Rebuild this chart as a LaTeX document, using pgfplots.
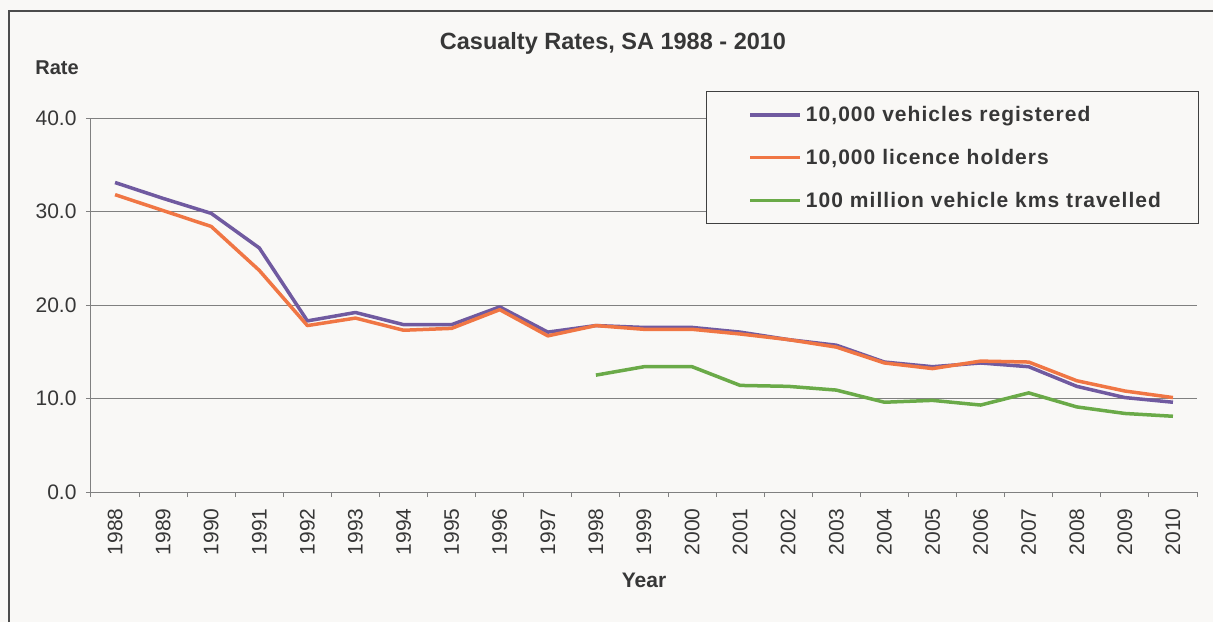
\documentclass[border=0pt]{standalone}
\usepackage{pgfplots}
\pgfplotsset{compat=1.18}
\usepackage{fontspec}
\setmainfont{Liberation Sans}
\newfontfamily\legfont[LetterSpace=5]{Liberation Sans}

\definecolor{bgc}{RGB}{249,248,246}
\definecolor{txt}{RGB}{55,55,55}
\definecolor{grd}{RGB}{128,128,128}
\definecolor{cpur}{RGB}{112,90,160}
\definecolor{corg}{RGB}{240,118,68}
\definecolor{cgrn}{RGB}{106,170,72}

% x = 0 is 1988, ..., 22 is 2010
\pgfplotstableread{
x  y
0  33.1
1  31.4
2  29.8
3  26.1
4  18.3
5  19.2
6  17.9
7  17.9
8  19.8
9  17.1
10 17.8
11 17.6
12 17.6
13 17.1
14 16.3
15 15.7
16 13.9
17 13.4
18 13.8
19 13.4
20 11.3
21 10.1
22 9.6
}\vehicles
\pgfplotstableread{
x  y
0  31.8
1  30.1
2  28.4
3  23.7
4  17.8
5  18.6
6  17.3
7  17.5
8  19.5
9  16.7
10 17.8
11 17.4
12 17.4
13 16.9
14 16.3
15 15.5
16 13.8
17 13.2
18 14.0
19 13.9
20 11.9
21 10.8
22 10.1
}\licence
\pgfplotstableread{
x  y
10 12.5
11 13.4
12 13.4
13 11.4
14 11.3
15 10.9
16 9.6
17 9.8
18 9.3
19 10.6
20 9.1
21 8.4
22 8.1
}\kms

\begin{document}
\begin{tikzpicture}[x=1pt,y=1pt]
\fill[bgc] (-91,-130) rectangle (1122,492);
\useasboundingbox (-91,-130) rectangle (1122,492);
\draw[line width=1.5pt, black!70] (-82,-130) -- (-82,481) -- (1122,481);
\begin{axis}[
    at={(0,0)}, anchor=south west,
    scale only axis, width=1106pt, height=374pt,
    xmin=-0.5, xmax=22.5, ymin=0, ymax=40,
    axis lines*=left,
    axis line style={grd, line width=1pt},
    ytick={0,10,20,30,40},
    ymajorgrids, grid style={grd, line width=1pt},
    xtick={0,...,22},
    xticklabels={1988,1989,1990,1991,1992,1993,1994,1995,1996,1997,1998,1999,2000,2001,2002,2003,2004,2005,2006,2007,2008,2009,2010},
    minor xtick={-0.5,0.5,...,22.5},
    major x tick style={draw=none},
    tick align=outside, major tick length=5pt, minor tick length=5pt,
    tick style={grd, line width=1pt},
    tick label style={font=\fontsize{21}{24}\selectfont, text=txt},
    x tick label style={rotate=90, anchor=east, xshift=-8pt},
    y tick label style={xshift=-6pt},
    /pgf/number format/assume math mode=true,
    yticklabel style={/pgf/number format/.cd, fixed, fixed zerofill, precision=1},
    legend style={at={(rel axis cs:0.556,1.072)}, anchor=north west,
      draw=black!75, line width=1pt, fill=bgc,
      inner xsep=35pt, inner ysep=13pt, row sep=22pt,
      font=\legfont\bfseries\fontsize{21}{24}\selectfont, text=txt},
    legend cell align=left,
    legend image code/.code={\path (-7pt,0pt) (52pt,0pt);
      \draw[#1] (0pt,0pt) -- (50pt,0pt);},
  ]
\addplot[cpur, line width=3.5pt, line join=round] table[x=x,y=y] {\vehicles};
\addplot[corg, line width=3.5pt, line join=round] table[x=x,y=y] {\licence};
\addplot[cgrn, line width=3.5pt, line join=round] table[x=x,y=y] {\kms};
\legend{{10,000 vehicles registered}, {10,000 licence holders}, {100 million vehicle kms travelled}}
\end{axis}
\node[font=\bfseries\fontsize{20}{24}\selectfont, text=txt] at (-34,424) {Rate};
\node[font=\bfseries\fontsize{23.5}{28}\selectfont, text=txt] at (522,449) {Casualty Rates, SA 1988 - 2010};
\node[font=\bfseries\fontsize{21}{24}\selectfont, text=txt] at (553,-88) {Year};
\end{tikzpicture}
\end{document}
